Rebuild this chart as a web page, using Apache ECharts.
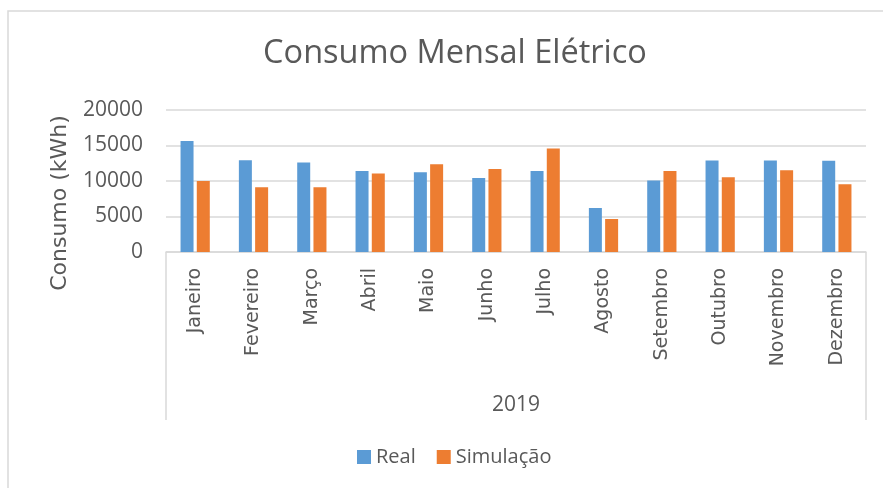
<!DOCTYPE html>
<html>
<head>
<meta charset="utf-8">
<script src="https://cdn.jsdelivr.net/npm/echarts@6/dist/echarts.min.js"></script>
<style>html,body{margin:0;padding:0;background:#fff;}#c{width:883px;height:488px;}</style>
</head>
<body>
<div id="c"></div>
<script>
const months = ['Janeiro','Fevereiro','Março','Abril','Maio','Junho','Julho','Agosto','Setembro','Outubro','Novembro','Dezembro'];
const year = ['2019'];
const real = [15650, 12930, 12600, 11420, 11240, 10430, 11420, 6200, 10070, 12890, 12890, 12850];
const simulacao = [10010, 9120, 9120, 11050, 12370, 11700, 14580, 4650, 11420, 10530, 11520, 9550];
const yTicks = [0, 5000, 10000, 15000, 20000];

const txt = '#595959';
const dv = '"DejaVu Sans", sans-serif';
const chart = echarts.init(document.getElementById('c'), null, {renderer: 'canvas'});
chart.setOption({
  animation: false,
  backgroundColor: '#fff',
  title: {
    text: 'Consumo Mensal Elétrico',
    left: 450, top: 32, textAlign: 'center',
    textStyle: {fontFamily: 'Open Sans', fontSize: 32.5, fontWeight: 'normal', color: txt}
  },
  legend: {
    left: 352, top: 442,
    itemWidth: 14, itemHeight: 14, itemGap: 21, icon: 'rect',
    textStyle: {fontFamily: 'Open Sans', fontSize: 20, color: txt},
    data: ['Real', 'Simulação']
  },
  grid: {left: 166, right: 17, top: 110, bottom: 236, containLabel: false},
  xAxis: [{
    type: 'category', data: months, position: 'bottom',
    axisLine: {show: true, lineStyle: {color: '#D9D9D9', width: 1.5}},
    axisTick: {show: false},
    axisLabel: {rotate: 90, margin: 16, interval: 0, fontFamily: dv, fontSize: 19, color: txt}
  }, {
    type: 'category', data: year, position: 'bottom',
    axisLine: {show: false},
    axisTick: {show: true, length: 168, lineStyle: {color: '#D9D9D9', width: 1.5}},
    axisLabel: {margin: 143, fontFamily: 'Open Sans', fontSize: 21, color: txt, verticalAlign: 'top'}
  }],
  yAxis: {
    type: 'value', min: yTicks[0], max: yTicks[yTicks.length-1], interval: 5000,
    axisLine: {show: false}, axisTick: {show: false},
    splitLine: {lineStyle: {color: '#D9D9D9', width: 1.5}},
    axisLabel: {margin: 23, fontFamily: 'Open Sans', fontSize: 21, color: txt, formatter: v => String(v)}
  },
  graphic: [
    {type: 'rect', shape: {x: 8, y: 11, width: 900, height: 500}, style: {fill: 'none', stroke: '#D9D9D9', lineWidth: 1.5}, silent: true, z: -1},
    {type: 'text', x: 60, y: 203, rotation: Math.PI/2,
     style: {text: 'Consumo (kWh)', align: 'center', verticalAlign: 'middle', fontFamily: dv, fontSize: 22, fill: txt}}
  ],
  series: [
    {name: 'Real', type: 'bar', data: real, barWidth: 13, barGap: '25%', itemStyle: {color: '#5B9BD5'}},
    {name: 'Simulação', type: 'bar', data: simulacao, barWidth: 13, barGap: '25%', itemStyle: {color: '#ED7D31'}}
  ]
});
</script>
</body>
</html>
